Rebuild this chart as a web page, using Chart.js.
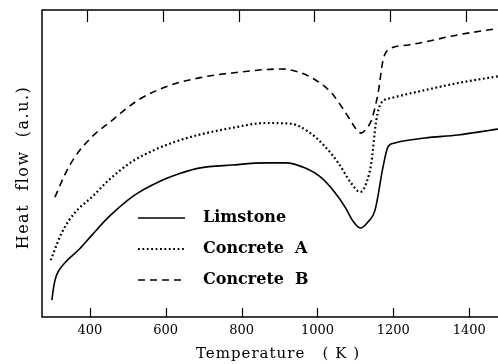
<!DOCTYPE html>
<html>
<head>
<meta charset="utf-8">
<script src="https://cdn.jsdelivr.net/npm/chart.js@4.4.0/dist/chart.umd.min.js"></script>
<style>
html,body{margin:0;padding:0;background:#fff;}
#wrap{width:498px;height:364px;position:relative;}
</style>
</head>
<body>
<div id="wrap"><canvas id="c" width="498" height="364"></canvas></div>
<script>
// ---- data ----
const seriesNames = ["Limstone", "Concrete  A", "Concrete  B"];
const xTickValues = [400, 600, 800, 1000, 1200, 1400];
const xTitle = "Temperature   ( K )";
const yTitle = "Heat  flow  (a.u.)";

const limestoneT = [300, 305, 312, 329, 374, 405, 450, 518, 581, 641, 688, 775, 864, 916, 968, 1011, 1047, 1073, 1095, 1113, 1132, 1152, 1173, 1186, 1204, 1283, 1370, 1476];
const limestoneV = [5.5, 10, 13.5, 16.9, 22.3, 26.6, 32.6, 39.7, 44, 46.9, 48.5, 49.5, 50.2, 50.2, 48.5, 45.3, 40.4, 35.8, 31, 29, 30.8, 34.9, 48.9, 55.4, 56.7, 58.3, 59.3, 61.2];

const concreteAT = [297, 326, 360, 405, 450, 510, 570, 623, 686, 775, 864, 932, 977, 1021, 1055, 1089, 1113, 1130, 1142, 1155, 1168, 1194, 1283, 1370, 1476];
const concreteAV = [18.5, 27.4, 33.9, 39, 44.6, 50.5, 54.4, 57, 59.3, 61.6, 63.2, 62.9, 60.3, 55.4, 50.2, 43.6, 40.7, 44, 50.2, 64, 69.7, 71.3, 73.9, 76.2, 78.4];

const concreteBT = [308, 334, 360, 405, 450, 528, 601, 688, 775, 906, 950, 995, 1037, 1073, 1100, 1115, 1130, 1142, 1160, 1173, 1186, 1239, 1370, 1476];
const concreteBV = [39, 46.3, 52, 58.6, 63.2, 70.7, 75, 77.9, 79.5, 80.8, 79.8, 77.2, 73, 66.8, 61.6, 59.9, 61.5, 64, 73, 83.7, 87, 88.6, 91.9, 94];

function pts(xs, ys){ return xs.map((x,i)=>({x:x, y:ys[i]})); }

const styles = [
  {borderDash: [], borderWidth: 1.6},
  {borderDash: [1.8, 2.6], borderWidth: 2.2},
  {borderDash: [7, 5], borderWidth: 1.6}
];

const datasets = [pts(limestoneT, limestoneV), pts(concreteAT, concreteAV), pts(concreteBT, concreteBV)].map((d,i)=>({
  label: seriesNames[i],
  data: d,
  borderColor: '#000',
  backgroundColor: '#000',
  borderWidth: styles[i].borderWidth,
  borderDash: styles[i].borderDash,
  pointRadius: 0,
  cubicInterpolationMode: 'monotone',
  fill: false
}));

const framePlugin = {
  id: 'frame',
  afterDraw(chart){
    const ctx = chart.ctx, a = chart.chartArea, xs = chart.scales.x;
    ctx.save();
    ctx.strokeStyle = '#000';
    ctx.lineWidth = 1.5;
    ctx.setLineDash([]);
    ctx.beginPath();
    ctx.moveTo(a.right, a.top); ctx.lineTo(a.left, a.top); ctx.lineTo(a.left, a.bottom); ctx.lineTo(a.right, a.bottom);
    ctx.stroke();
    ctx.lineWidth = 1.2;
    xTickValues.forEach(v=>{
      const px = Math.round(xs.getPixelForValue(v)) + 0.5;
      ctx.beginPath(); ctx.moveTo(px, a.bottom); ctx.lineTo(px, a.bottom - 9); ctx.stroke();
      ctx.beginPath(); ctx.moveTo(px - 3, a.top); ctx.lineTo(px - 3, a.top + 12); ctx.stroke();
    });
    ctx.fillStyle = '#000';
    ctx.textAlign = 'center';
    ctx.textBaseline = 'middle';
    ctx.font = '15px "DejaVu Serif"';
    ctx.letterSpacing = '1px';
    ctx.fillText(xTitle, (a.left + a.right) / 2 + 8, 354);
    ctx.save();
    ctx.translate(24, (a.top + a.bottom) / 2 + 4);
    ctx.rotate(-Math.PI / 2);
    ctx.font = '16px "DejaVu Serif"';
    ctx.letterSpacing = '1.5px';
    ctx.fillText(yTitle, 0, 0);
    ctx.restore();
    ctx.letterSpacing = '0px';
    const lx0 = a.left + 96, lx1 = a.left + 143, tx = a.left + 161;
    const ly0 = a.top + 208, dy = 31;
    chart.data.datasets.forEach((ds, i)=>{
      const y = ly0 + i * dy;
      ctx.strokeStyle = '#000';
      ctx.lineWidth = ds.borderWidth;
      ctx.setLineDash(ds.borderDash);
      ctx.beginPath(); ctx.moveTo(lx0, y); ctx.lineTo(lx1, y); ctx.stroke();
      ctx.setLineDash([]);
      ctx.font = 'bold 16px "DejaVu Serif"';
      ctx.textAlign = 'left';
      ctx.fillText(ds.label, tx, y);
    });
    ctx.restore();
  }
};

new Chart(document.getElementById('c'), {
  type: 'line',
  data: { datasets: datasets },
  options: {
    responsive: false,
    animation: false,
    layout: { padding: { top: 10, right: 0, left: 0, bottom: 0 } },
    plugins: { legend: { display: false }, tooltip: { enabled: false } },
    scales: {
      x: {
        type: 'linear', min: 274, max: 1476,
        afterBuildTicks: (s)=>{ s.ticks = xTickValues.map(v=>({value:v})); },
        afterFit: (s)=>{ s.height = 47; },
        grid: { display: false, drawTicks: false },
        border: { display: false },
        ticks: { color: '#000', padding: 6, maxRotation: 0, font: { family: 'DejaVu Serif', size: 13 },
                 callback: (v)=>String(v) }
      },
      y: {
        min: 0, max: 100,
        afterFit: (s)=>{ s.width = 42; },
        grid: { display: false, drawTicks: false },
        border: { display: false },
        ticks: { display: false }
      }
    }
  },
  plugins: [framePlugin]
});
</script>
</body>
</html>
